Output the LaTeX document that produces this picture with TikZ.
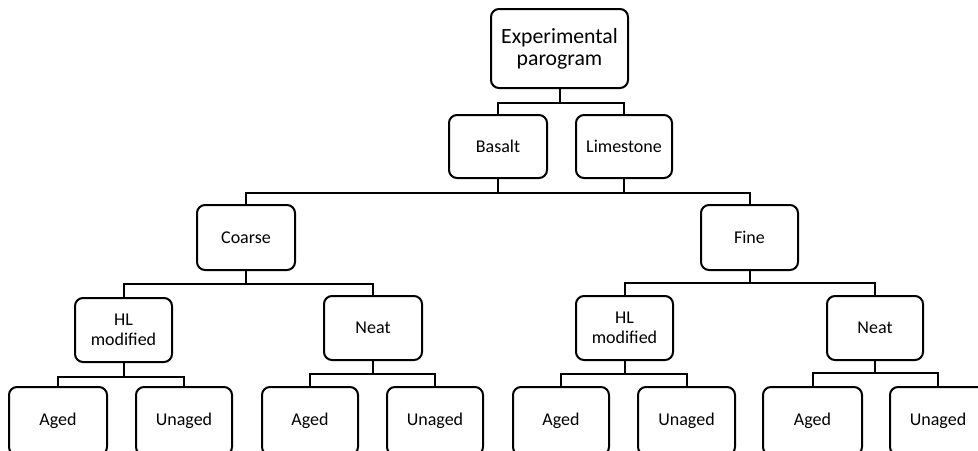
\documentclass[tikz,border=0pt]{standalone}
\usepackage{fontspec}
\setmainfont{Carlito}
\begin{document}
\begin{tikzpicture}[x=0.75pt,y=-0.75pt,
  box/.style 2 args={draw, line width=1.5pt, rounded corners=6pt,
    minimum width=#1*0.75pt, minimum height=#2*0.75pt, align=center,
    inner sep=0pt, font=\fontsize{13.5}{15}\selectfont},
  bigtext/.style={font=\fontsize{16.3}{16.5}\selectfont},
  conn/.style={line width=1.5pt}]
\clip (0,0) rectangle (978,450);
% level 0
\node[box={137}{79}, bigtext] (exp) at (559.5,48.5) {Experimental\\parogram};
% level 1
\node[box={98}{63}] (basalt) at (498,146.5) {Basalt};
\node[box={96}{63}] (lime) at (624,146.5) {Limestone};
% level 2
\node[box={98}{65}] (coarse) at (246,237.5) {Coarse};
\node[box={97}{65}] (fine) at (749.5,237.5) {Fine};
% level 3
\node[box={97}{64}] (hla) at (123.5,330) {HL\\modified};
\node[box={98}{64}] (neata) at (373,328) {Neat};
\node[box={97}{64}] (hlb) at (624.5,328) {HL\\modified};
\node[box={96}{64}] (neatb) at (875,328) {Neat};
% level 4
\node[box={98}{68}] (a1) at (58,421) {Aged};
\node[box={96}{68}] (u1) at (184,421) {Unaged};
\node[box={96}{68}] (a2) at (310,421) {Aged};
\node[box={96}{68}] (u2) at (435,421) {Unaged};
\node[box={96}{68}] (a3) at (561,421) {Aged};
\node[box={97}{68}] (u3) at (686.5,421) {Unaged};
\node[box={99}{68}] (a4) at (812.5,421) {Aged};
\node[box={96}{68}] (u4) at (938,421) {Unaged};
% junctions
\coordinate (j0) at (559.5,103);
\coordinate (bus) at (559.5,193);
\coordinate (j2) at (246,284);
\coordinate (j3) at (749.5,283);
\coordinate (j4) at (123.5,377);
\coordinate (j5) at (373,374);
\coordinate (j6) at (624.5,374);
\coordinate (j7) at (875,373);
% connectors
\draw[conn] (exp.south) -- (j0);
\draw[conn] (basalt.north) |- (j0) -| (lime.north);
\draw[conn] (basalt.south) -- (basalt.south |- bus);
\draw[conn] (lime.south) -- (lime.south |- bus);
\draw[conn] (coarse.north) |- (bus) -| (fine.north);
\draw[conn] (coarse.south) -- (j2);
\draw[conn] (hla.north) |- (j2) -| (neata.north);
\draw[conn] (fine.south) -- (j3);
\draw[conn] (hlb.north) |- (j3) -| (neatb.north);
\draw[conn] (hla.south) -- (j4);
\draw[conn] (a1.north) |- (j4) -| (u1.north);
\draw[conn] (neata.south) -- (j5);
\draw[conn] (a2.north) |- (j5) -| (u2.north);
\draw[conn] (hlb.south) -- (j6);
\draw[conn] (a3.north) |- (j6) -| (u3.north);
\draw[conn] (neatb.south) -- (j7);
\draw[conn] (a4.north) |- (j7) -| (u4.north);
\end{tikzpicture}
\end{document}
